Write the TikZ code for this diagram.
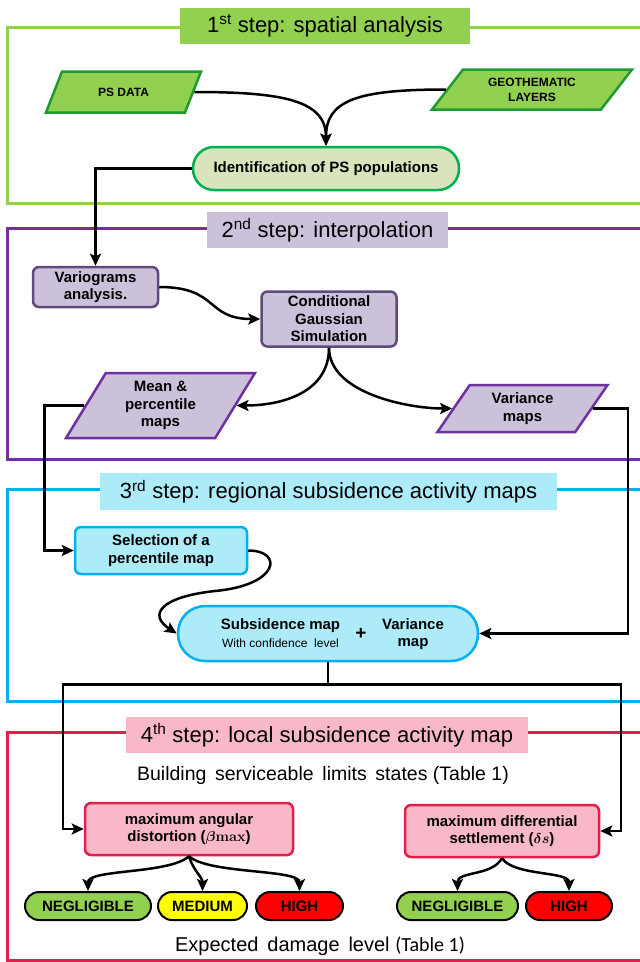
\documentclass[tikz,border=0pt]{standalone}
\usepackage[no-math]{fontspec}
\usepackage{amsmath,bm}
\setmainfont{Liberation Sans}
\newfontfamily\calib{Carlito}
\usetikzlibrary{shapes.geometric,arrows.meta}
\definecolor{gA}{HTML}{92D050}
\definecolor{gB}{HTML}{1F9A30}
\definecolor{gC}{HTML}{00B050}
\definecolor{gD}{HTML}{D8E4BC}
\definecolor{pA}{HTML}{7030A0}
\definecolor{pB}{HTML}{CCC1DA}
\definecolor{pC}{HTML}{604A7B}
\definecolor{bA}{HTML}{00B0F0}
\definecolor{bB}{HTML}{AEEBF9}
\definecolor{rA}{HTML}{E0204C}
\definecolor{rB}{HTML}{F8B8C8}
\definecolor{yA}{HTML}{FFFF00}
\definecolor{hA}{HTML}{FF0000}
\begin{document}
\begin{tikzpicture}[x=1pt,y=-1pt,
  frame/.style={line width=3pt},
  ttl/.style={inner sep=0pt, font=\fontsize{22}{26}\selectfont, text=black},
  lbl/.style={font=\bfseries\fontsize{15}{17.5}\selectfont, align=center, inner sep=0pt},
  para/.style={trapezium, trapezium stretches=true, inner sep=0pt, line width=2.5pt, lbl},
  box/.style={rectangle, rounded corners=6pt, line width=2.5pt, inner sep=0pt, lbl},
  pill/.style={rectangle, rounded corners=14pt, line width=2pt, draw=black, inner sep=0pt, minimum height=28pt, lbl},
  arr/.style={line width=2.5pt, -{Stealth[length=12pt,width=11pt,inset=2.5pt]}},
  ln/.style={line width=2.5pt}
]
\useasboundingbox (0,0) rectangle (640,962);
\fill[white] (0,0) rectangle (640,962);

% frames
\draw[frame, gA] (645,27) -| (7,203) -- (645,203);
\draw[frame, pA] (645,228) -| (7,459) -- (645,459);
\draw[frame, bA] (645,489) -| (7,701) -- (645,701);
\draw[frame, rA] (645,732) -| (7,960) -- (645,960);

% titles
\node[ttl, fill=gA, minimum width=290pt, minimum height=36pt] (t1) at (325,26) {1\textsuperscript{st} step: spatial analysis};
\node[ttl, fill=pB, minimum width=241pt, minimum height=36pt] (t2) at (327.5,230) {2\textsuperscript{nd} step: interpolation};
\node[ttl, fill=bB, minimum width=457pt, minimum height=37pt] (t3) at (328.5,491.5) {3\textsuperscript{rd} step: regional subsidence activity maps};
\node[ttl, fill=rB, minimum width=402pt, minimum height=36pt] (t4) at (327,735) {4\textsuperscript{th} step: local subsidence activity map};

% step 1
\node[para, trapezium left angle=52, trapezium right angle=128, draw=gB, fill=gA,
      minimum width=156pt, minimum height=41pt, font=\bfseries\fontsize{12}{15}\selectfont] (ps) at (123.5,92) {PS DATA};
\node[para, trapezium left angle=50, trapezium right angle=130, draw=gB, fill=gA,
      minimum width=200pt, minimum height=40pt, font=\bfseries\fontsize{12}{15}\selectfont] (geo) at (532,89.5) {GEOTHEMATIC\\LAYERS};
\node[lbl, draw=gC, fill=gD, line width=2.5pt, rounded corners=21pt,
      minimum width=266pt, minimum height=43pt] (id) at (326,168.5) {Identification of PS populations};

\draw[arr] (ps.east) .. controls +(90,0) and +(0,-45) .. (id.north);
\draw[arr] (geo.west) .. controls +(-90,0) and +(0,-45) .. (id.north);

% step 2
\node[box, draw=pC, fill=pB, minimum width=125pt, minimum height=40pt] (vario) at (95.5,287) {Variograms\\analysis.};
\node[box, draw=pC, fill=pB, minimum width=135pt, minimum height=55pt] (cgs) at (329,319) {Conditional\\Gaussian\\Simulation};
\node[para, trapezium left angle=62, trapezium right angle=118, draw=pA, fill=pB,
      minimum width=189pt, minimum height=65pt] (mean) at (160.5,405.5) {Mean \&\\percentile\\maps};
\node[para, trapezium left angle=59, trapezium right angle=121, draw=pA, fill=pB,
      minimum width=171pt, minimum height=47pt] (varm) at (522.5,408.5) {Variance\\maps};

\draw[arr] (id.west) -| (vario.north);
\draw[arr] (vario.east) .. controls +(60,0) and +(-55,0) .. (cgs.west);
\draw[arr] (cgs.south) .. controls +(0,45) and +(45,0) .. (mean.east);
\draw[arr] (cgs.south) .. controls +(0,45) and +(-45,0) .. (varm.west);

% step 3
\node[box, draw=bA, fill=bB, minimum width=172pt, minimum height=47pt] (sel) at (161,550.5) {Selection of a\\percentile map};
\node[draw=bA, fill=bB, line width=2.5pt, rounded corners=27pt, minimum width=300pt, minimum height=55pt, inner sep=0pt] (sub) at (328,633.5) {};
\node[lbl] (sub1) at (280.5,626) {Subsidence map};
\node[inner sep=0pt, font=\fontsize{12}{13}\selectfont] (sub2) at (280.5,643.5) {With confidence\ \ level};
\node[inner sep=0pt, font=\bfseries\fontsize{19}{20}\selectfont] (plus) at (361,634) {+};
\node[lbl] (sub3) at (413,634) {Variance\\map};

\draw[arr] (mean.west) -- ++(-40,0) |- (sel.west);
\draw[arr] (varm.east) -- ++(35,0) |- (sub.east);
\draw[arr] (sel.east) .. controls +(35,0) and (280,585) .. (215,591)
                      .. controls (160,597) and (148,615) .. (sub.west);

% step 4
\node[inner sep=0pt, font=\fontsize{19.5}{22}\selectfont] (bsl) at (323,775) {Building\ \,serviceable\ \,limits\ \,states (Table\ 1)};
\node[box, draw=rA, fill=rB, minimum width=208pt, minimum height=52pt] (maxa) at (189,829) {maximum angular\\distortion ({\boldmath$\beta$}$\mathbf{max}$)};
\node[box, draw=rA, fill=rB, minimum width=194pt, minimum height=52pt] (maxd) at (502,831) {maximum differential\\settlement ({\boldmath$\delta s$})};

\draw[arr] (sub.south) -- ++(0,22) -- ++(-265,0) |- (maxa.west);
\draw[arr] (sub.south) -- ++(0,22) -- ++(293,0) |- (maxd.east);

\node[pill, fill=gA, minimum width=126pt] (neg1) at (88,906) {NEGLIGIBLE};
\node[pill, fill=yA, minimum width=89pt] (med) at (202.5,906) {MEDIUM};
\node[pill, fill=hA, minimum width=87pt] (high1) at (299.5,906) {HIGH};
\node[pill, fill=gA, minimum width=121pt] (neg2) at (457.5,906) {NEGLIGIBLE};
\node[pill, fill=hA, minimum width=86pt] (high2) at (569,906) {HIGH};

\draw[arr] (maxa.south) .. controls +(-20,18) and +(0,-22) .. (neg1.north);
\draw[arr] (maxa.south) .. controls +(4,14) and +(0,-14) .. (med.north);
\draw[arr] (maxa.south) .. controls +(20,18) and +(0,-22) .. (high1.north);
\draw[arr] (maxd.south) .. controls +(-10,18) and +(0,-20) .. (neg2.north);
\draw[arr] (maxd.south) .. controls +(12,18) and +(0,-20) .. (high2.north);

\node[inner sep=0pt, font=\fontsize{20}{22}\selectfont] (edl) at (320,946) {Expected\ \,damage\ \,level {\calib(Table\ 1)}};
\end{tikzpicture}
\end{document}
